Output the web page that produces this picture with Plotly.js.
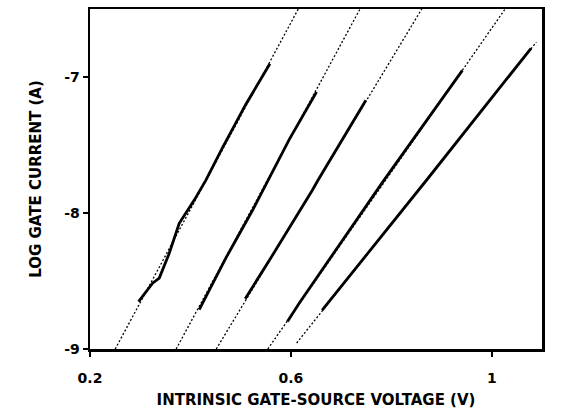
<!DOCTYPE html>
<html>
<head>
<meta charset="utf-8">
<script src="https://cdn.plot.ly/plotly-3.0.1.min.js"></script>
<style>
  html, body { margin: 0; padding: 0; background: #ffffff; }
  #chart { width: 571px; height: 409px; }
</style>
</head>
<body>
<div id="chart"></div>
<script>
// ---- Data ----
// Fitted (dotted) lines: endpoints in (V, log A)
const fit1X = [0.2502, 0.6147];
const fit1Y = [-9.0, -6.5];
const fit2X = [0.3715, 0.7376];
const fit2Y = [-9.0, -6.5];
const fit3X = [0.4514, 0.8606];
const fit3Y = [-9.0, -6.5];
const fit4X = [0.5540, 1.0266];
const fit4Y = [-9.0, -6.5];
const fit5X = [0.6115, 1.0888];
const fit5Y = [-8.956, -6.743];

// Measured (solid) curves
const meas1X = [0.2967, 0.3246, 0.3379, 0.3578, 0.3777, 0.4076, 0.4308, 0.4639, 0.5104, 0.5582];
const meas1Y = [-8.651, -8.516, -8.479, -8.296, -8.076, -7.905, -7.758, -7.520, -7.200, -6.902];
const meas2X = [0.4175, 0.4707, 0.5236, 0.5966, 0.6510];
const meas2Y = [-8.710, -8.330, -7.980, -7.460, -7.110];
const meas3X = [0.5091, 0.5568, 0.6430, 0.6530, 0.7493];
const meas3Y = [-8.630, -8.350, -7.831, -7.765, -7.171];
const meas4X = [0.5932, 0.6165, 0.7823, 0.9415];
const meas4Y = [-8.798, -8.663, -7.775, -6.951];
const meas5X = [0.6623, 0.7493, 0.8719, 1.0782];
const meas5Y = [-8.714, -8.315, -7.750, -6.789];

// Axis ticks
const xTickVals = [0.2, 0.6, 1];
const xTickText = ['0.2', '0.6', '1'];
const yTickVals = [-9, -8, -7];
const yTickText = ['-9', '-8', '-7'];

const fits = [[fit1X, fit1Y], [fit2X, fit2Y], [fit3X, fit3Y], [fit4X, fit4Y], [fit5X, fit5Y]];
const meas = [[meas1X, meas1Y], [meas2X, meas2Y], [meas3X, meas3Y], [meas4X, meas4Y], [meas5X, meas5Y]];

const traces = [];
fits.forEach(function (f) {
  traces.push({
    x: f[0], y: f[1], type: 'scatter', mode: 'lines',
    line: { color: '#000000', width: 1.3, dash: '2px,2px' },
    hoverinfo: 'skip', showlegend: false
  });
});
meas.forEach(function (m) {
  traces.push({
    x: m[0], y: m[1], type: 'scatter', mode: 'lines',
    line: { color: '#000000', width: 2.8 },
    hoverinfo: 'skip', showlegend: false
  });
});

const tickFont = { family: 'DejaVu Sans, Arial, sans-serif', size: 14, color: '#000000', weight: 700 };
const titleFont = { family: 'DejaVu Sans, Arial, sans-serif', size: 15, color: '#000000', weight: 700 };

const layout = {
  width: 571, height: 409,
  margin: { l: 90, r: 29, t: 9, b: 60, pad: 0 },
  paper_bgcolor: '#ffffff', plot_bgcolor: '#ffffff',
  showlegend: false,
  xaxis: {
    range: [0.2, 1.1],
    tickmode: 'array', tickvals: xTickVals, ticktext: xTickText,
    ticks: 'outside', ticklen: 5, tickwidth: 2, tickcolor: '#000000',
    ticklabelstandoff: 10,
    showline: true, linecolor: '#000000', linewidth: 2.5, mirror: true,
    showgrid: false, zeroline: false,
    tickfont: tickFont,
    title: { text: 'INTRINSIC GATE-SOURCE VOLTAGE (V)', font: titleFont, standoff: 10 },
    automargin: false
  },
  yaxis: {
    range: [-9, -6.5],
    tickmode: 'array', tickvals: yTickVals, ticktext: yTickText,
    ticks: 'outside', ticklen: 5, tickwidth: 2, tickcolor: '#000000',
    showline: true, linecolor: '#000000', linewidth: 2.5, mirror: true,
    showgrid: false, zeroline: false,
    tickfont: tickFont,
    title: { text: 'LOG GATE CURRENT (A)', font: titleFont, standoff: 19 },
    automargin: false
  }
};

Plotly.newPlot('chart', traces, layout, { displayModeBar: false, staticPlot: true });
</script>
</body>
</html>
